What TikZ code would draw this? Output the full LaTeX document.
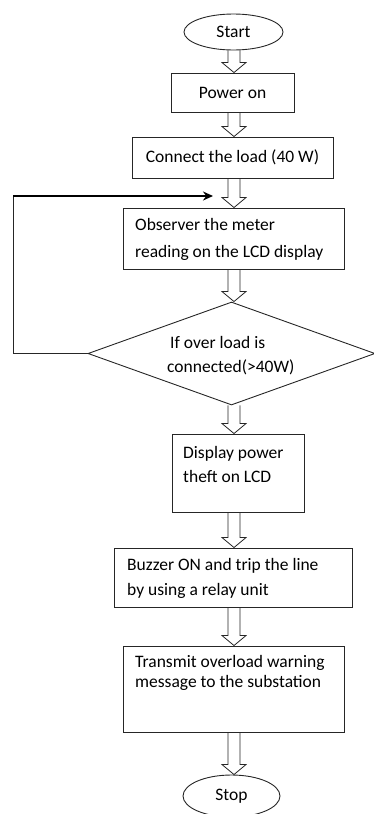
\documentclass[tikz,border=0pt]{standalone}
\usepackage{fontspec}
\setmainfont{Carlito}
\usetikzlibrary{shapes.geometric,calc,arrows.meta}
\newcommand\figfont{\fontsize{17.5}{21}\selectfont}
\begin{document}
\begin{tikzpicture}[x=1pt,y=-1pt,
  box/.style={draw=black!85, line width=0.9pt, rectangle, inner sep=0pt, font=\figfont},
  oval/.style={draw=black!85, line width=0.9pt, ellipse, inner sep=0pt, font=\figfont},
  txt/.style={anchor=base west, inner sep=0pt, font=\figfont},
  dbl/.style={draw=black!85, line width=0.8pt, to path={let \p1=(\tikztostart), \p2=(\tikztotarget) in
     (\x1-6pt,\y1) -- (\x1-6pt,\y2+10pt) -- (\x1-12pt,\y2+10pt) -- (\x1,\y2) -- (\x1+12pt,\y2+10pt) -- (\x1+6pt,\y2+10pt) -- (\x1+6pt,\y1)}}]
\useasboundingbox (0,0) rectangle (374,814);
\coordinate (ax) at (234,0);

\node[oval, minimum width=99pt, minimum height=36pt] (start) at (233.5,32) {Start};
\node[box, minimum width=123pt, minimum height=39pt] (power) at (232.5,92.5) {Power on};
\node[box, minimum width=201pt, minimum height=41pt] (connect) at (232.5,157.5) {Connect the load (40 W)};

\node[box, minimum width=221pt, minimum height=61pt] (observe) at (233.5,238.5) {};
\node[txt] (observeA) at (135,230) {Observer the meter};
\node[txt] (observeB) at (135,257) {reading on the LCD display};

\node[draw=black!85, line width=0.9pt, diamond, minimum width=287pt, minimum height=103pt, inner sep=0pt] (check) at (231.5,353.5) {};
\node[txt] (checkA) at (170,348) {If over load is};
\node[txt] (checkB) at (167,372) {connected(>40W)};

\node[box, minimum width=132pt, minimum height=78pt] (display) at (238,473) {};
\node[txt] (displayA) at (183,458) {Display power};
\node[txt] (displayB) at (183,482) {theft on LCD};

\node[box, minimum width=238pt, minimum height=59pt] (buzzer) at (233,577.5) {};
\node[txt] (buzzerA) at (127,570) {Buzzer ON and trip the line};
\node[txt] (buzzerB) at (127,595) {by using a relay unit};

\node[box, minimum width=221pt, minimum height=86pt] (transmit) at (233.5,689) {};
\node[txt] (transmitA) at (135,667) {Transmit overload warning};
\node[txt] (transmitB) at (135,687) {message to the substation};

\node[oval, minimum width=97pt, minimum height=42pt] (stop) at (231.5,796) {Stop};

\draw[dbl] (start.south -| ax) to (power.north -| ax);
\draw[dbl] (power.south -| ax) to (connect.north -| ax);
\draw[dbl] (connect.south -| ax) to (observe.north -| ax);
\draw[dbl] (observe.south -| ax) to (check.north -| ax);
\draw[dbl] (check.south -| ax) to (display.north -| ax);
\draw[dbl] (display.south -| ax) to (buzzer.north -| ax);
\draw[dbl] (buzzer.south -| ax) to (transmit.north -| ax);
\draw[dbl] (transmit.south -| ax) to (stop.north -| ax);

\coordinate (fbTip) at (213,196);
\coordinate (fbX) at (13,0);
\draw[black!85, line width=1pt] (check.west) -- (check.west -| fbX) -- (fbX |- fbTip);
\draw[black, line width=1.8pt, -{Stealth[length=10pt,width=9pt]}] (fbX |- fbTip) -- (fbTip);
\end{tikzpicture}
\end{document}
